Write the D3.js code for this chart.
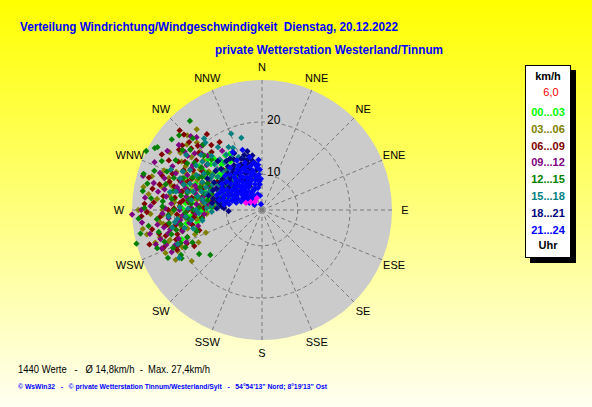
<!DOCTYPE html>
<html>
<head>
<meta charset="utf-8">
<script src="https://cdn.jsdelivr.net/npm/d3@7"></script>
<style>
body { margin: 0; }
text { font-family: "Liberation Sans", Arial, sans-serif; }
</style>
</head>
<body>
<svg width="592" height="407"></svg>
<script>
// wind direction (deg) and speed (km/h) per 3-hour block
var h00_03 = [[300,12],[305,13],[310,12.5],[295,11],[290,12],[285,13],[300,14],[310,14],[315,13],[320,12],[318,15],[305,15.5],[295,14.5],[288,15],[282,14],[278,12.5],[275,15],[270,16],[265,17],[260,18],[255,19],[272,13],[298,10.5],[308,10],[315,11],[322,14],[326,16],[312,16.5],[300,16],[292,17],[285,17.5],[280,16.5],[268,14],[262,15.5],[258,17],[275,18],[290,10],[303,11.5],[313,12],[296,13],[287,11],[280,11.5],[306,14],[299,15],[316,14],[324,13],[330,15.8],[320,15.5],[318,18],[305,18],[294,19],[283,19.5],[250,19.5],[265,19],[277,20],[254,16.5],
  [302,12.8],[307,11.8],[311,13.5],[297,12.2],[292,13.8],[286,14.2],[283,12],[278,14],[273,14.5],[269,15],[264,16.2],[259,16],[294,15.8],[301,13.4],[309,15],[314,12.2],[319,13.6],[323,11.5],[327,14.5],[304,16.8],[296,17.8],[289,16.2],[281,15.5],[276,16.8],[271,18.5],[266,17.8],[309,11],[317,16.8],[313,17.5],[287,18.5]];
var h03_06 = [[280,18],[275,20],[270,22],[265,19],[260,21],[255,23],[250,17],[245,20],[240,22],[234,19.8],[285,21],[290,19],[295,17],[300,20],[305,22],[310,18],[315,23],[321,22.7],[318,20],[312,15],[298,14],[288,16],[282,13],[276,15],[271,17],[266,14],[262,16],[256,18],[248,15],[243,17],[292,23],[287,24.6],[278,24.5],[268,24],[258,25],[300,16.5],[302,23.6],[274,12.5],[282,19],[294,21],[303,17.5],[262,22],[252,21.5],[283,22.5],[270,26],
  [285,18.5],[279,21],[273,19],[268,20.5],[263,22.5],[257,20],[251,22],[246,23],[289,21.8],[296,19.5],[301,21],[307,20],[311,22],[316,21],[293,16],[286,13.5],[279,16],[272,14],[264,18],[258,19],[253,24],[261,25.5],[276,23],[281,25.5],[298,18],[306,16],[313,19.5],[289,17.5],[267,22],[244,21]];
var h06_09 = [[314,23.5],[314,24.5],[324,21],[328,18.6],[313,22],[309,22.5],[254,20],[247,20.7],[269,24.6],[275,19],[280,17],[285,18],[290,20],[295,16],[300,18.5],[305,15],[310,17],[318,16],[322,19],[270,21],[265,18],[260,20],[255,22],[250,18.5],[245,21],[263,15],[272,14.5],[278,22],[284,23],[292,21.5],[298,23],[302,20.5],[288,14],[282,16],[276,17.5],[268,16.5],[258,17],[252,16],[306,12.5],[296,13],[290,15.5],[280,13],[274,23.5],[266,22.5],[260,24],[286,25],[316,14],[312,19.5],[300,21.5],[294,18],[285,20.5],[278,20],[262,19.5],[249,23],[242,18],
  [283,19],[277,18.5],[271,20],[267,19.5],[261,21.5],[256,19],[251,20.5],[287,21.5],[291,18.5],[297,20],[303,17],[307,19],[311,21],[319,18],[283,15],[277,14],[270,17.5],[264,16.5],[296,15],[302,13.5],[289,23],[281,24],[273,25],[267,25.5],[257,23],[253,25],[299,24.5],[306,22.5],[315,20.5],[246,19]];
var h09_12 = [[268,27],[249,23.3],[268,22],[250,22.4],[318,21.7],[306,20.7],[280,18],[275,16],[285,20],[290,17],[295,19],[300,15],[305,17.5],[310,20],[315,18],[320,16],[270,19],[265,21],[260,17.5],[255,19],[252,24],[245,22],[258,21],[262,23],[272,24],[278,21.5],[284,24],[288,22.5],[296,22],[302,24],[308,23],[312,15],[298,13],[292,14],[282,15],[276,13.5],[266,14.5],[256,16],[286,18.5],[280,23],[270,25.5],[274,20.5],[264,25.5],[294,25],[300,19],[288,16.5],[272,17],[258,24.5],[247,19],[326,17],
  [283,19.5],[277,17.5],[271,21.5],[266,18.5],[261,19.5],[256,21.5],[251,20],[289,19.5],[293,21],[298,17],[303,19],[307,21.5],[313,19],[317,20],[284,16.5],[279,15],[273,15.5],[267,16],[295,14.5],[302,16.5],[290,23.5],[282,22],[276,25],[260,22],[254,23],[248,21],[309,17],[316,22.5],[286,26],[263,19]];
var h12_15 = [[321,24.5],[301,25.7],[297,27],[255,27],[241,20.8],[296,24],[229,16.5],[239,21],[280,19],[275,22],[285,17],[290,21],[295,18],[300,22],[305,19],[310,21],[315,17],[270,20],[265,23],[260,19],[255,21],[250,24],[245,18],[290,24.5],[283,25],[276,24],[266,26],[262,15],[272,15.5],[280,14],[288,13.5],[296,15],[304,16],[312,24],[318,20],[258,23],[248,20],[243,23],[278,17.5],[285,22],[292,19.5],[300,26],[268,18],[274,13],[290,16],[235,18],[252,16.5],[262,21],[282,20.5],[296,20],
  [283,18],[277,20.5],[272,22],[267,21],[263,17.5],[257,20],[252,22.5],[288,19],[292,22.5],[297,17],[302,20],[307,22],[313,18.5],[281,16],[275,17],[270,16.5],[286,15],[293,14],[299,16.5],[287,26],[279,25.5],[271,25],[262,24.5],[247,21.5],[244,19.5],[308,24.5],[316,22],[305,17.5],[259,26],[250,18.5]];
var h15_18 = [[344,17.7],[321,20.7],[320,20],[259,20.6],[240,21.3],[248,20.5],[280,15],[285,17],[290,14],[295,16],[300,13],[305,15],[310,17],[315,14],[320,16],[325,18],[330,15],[335,16.5],[340,14],[275,13],[270,16],[265,18],[260,15],[255,17],[288,19],[296,20],[304,18.5],[312,19],[300,11],[292,12],[284,12.5],[276,11.5],[268,13],[318,12],[326,13],[282,20],[272,19],[262,20],[294,22],[306,21],[286,14.5],[298,17.5],[308,12.5],[314,16],[278,17],[266,21],[290,18],[302,15],[338,19],[320,13.5],
  [282,16],[287,15.5],[292,15],[297,14],[302,16.5],[307,14],[312,15],[317,17.5],[322,15],[327,16],[332,17],[277,14.5],[272,14],[267,15.5],[262,17],[257,18.5],[284,18],[291,20],[299,19],[309,18],[294,12.5],[286,11.5],[279,12],[304,12],[313,13],[323,12],[271,17.5],[264,19.5],[281,21],[336,14.5]];
var h18_21 = [[335,13],[338,14],[342,14.5],[345,13.5],[348,12.5],[340,12],[344,11.5],[336,11],[330,12],[325,13],[320,11],[315,12],[310,10],[305,11],[300,12],[295,10.5],[290,11],[285,12],[281,10.5],[268,9.5],[281,12],[275,11],[330,9.5],[325,10],[318,9],[312,8.5],[305,9],[298,8.5],[322,14],[315,14.5],[308,13],[300,14],[292,13.5],[328,15],[334,15.5],[346,15],[350,14],[352,11],[347,10],[340,9.5],[333,8],[326,8.5],[310,15],[300,15.5],[318,16],[285,14],[278,13],[272,12],[295,13],[288,9],
  [337,12.5],[341,13.5],[343,12.8],[346,14],[349,13],[339,11],[333,12.5],[327,11.5],[322,12.5],[317,13],[312,11.5],[307,12],[302,10.5],[297,11.5],[293,12],[287,11],[283,13],[278,11.5],[273,10.5],[328,13.5],[331,14.5],[324,15],[313,10],[303,13],[336,9],[319,10.5],[309,9.5],[298,10],[344,10.5],[351,12.5]];
var h21_24 = [[342,15.5],[333,15.8],[355,7.8],[353,11.7],[350,2.5],[300,5],[305,6],[310,6.5],[315,7],[320,7.5],[325,7],[330,8],[335,8.5],[340,9],[345,8],[350,7],[355,10],[358,9],[345,10.5],[340,11],[335,10],[330,10.5],[325,9.5],[320,9],[315,8.5],[310,8],[305,8.5],[300,9],[295,8],[290,9],[285,10],[283,11.7],[290,11],[295,10.5],[300,11],[305,10],[310,11],[315,10.5],[320,11.5],[325,12],[330,11.5],[335,12],[340,13],[345,12],[350,12.5],[355,12],[348,9],[338,7],[328,6],[318,5.5],[308,5],[298,6.5],[292,7],[286,8],[280,9.5],[303,12.5],[313,13],[323,13.5],[333,14],[352,5],[345,5.5],[335,5],[325,4.5],[315,4],[305,3.5],[356,13],[347,13.8],[318,12.5],[298,12],[288,12.5],
  [302,7],[307,7.5],[312,7.2],[317,7.8],[322,8.2],[327,8.5],[332,9.2],[337,9.5],[342,10],[347,11],[352,9.5],[357,11],[337,11.5],[332,13],[327,10.8],[322,10.2],[317,9.5],[312,9.8],[307,9.2],[302,10],[297,9.5],[292,10],[287,9],[282,10.5],[297,11.5],[292,12],[309,12],[319,11],[329,12.5],[339,12.2],[349,10],[354,8.5],[343,7],[333,6.5],[323,6],[313,6],[303,6.2],[294,8.5],[284,11],[278,10.5]];
var latest = [[294,5.8],[319,4],[337,4.6],[305,4.8]];

var blocks = ["00...03","03...06","06...09","09...12","12...15","15...18","18...21","21...24"];
var blockData = [h00_03, h03_06, h06_09, h09_12, h12_15, h15_18, h18_21, h21_24];
var blockColors = ["#00ff00","#808000","#800000","#800080","#008000","#008080","#000080","#0000ff"];
var directions = ["N","NNE","NE","ENE","E","ESE","SE","SSE","S","SSW","SW","WSW","W","WNW","NW","NNW"];
var rings = [10, 20];

var svg = d3.select('svg');

var grad = svg.append('defs').append('linearGradient')
  .attr('id', 'bg').attr('x1', 0).attr('y1', 0).attr('x2', 0).attr('y2', 1);
grad.append('stop').attr('offset', '0%').attr('stop-color', '#ffff00');
grad.append('stop').attr('offset', '100%').attr('stop-color', '#fffff2');

svg.append('rect').attr('width', 592).attr('height', 407).attr('fill', 'url(#bg)');

var cx = 262, cy = 210, R = 130;
var rScale = d3.scalePow().exponent(1.3).domain([0, 27]).range([0, R]);
var angle = d3.scaleLinear().domain([0, 360]).range([0, 2 * Math.PI]);

function px(dir, r) { return cx + r * Math.sin(angle(dir)); }
function py(dir, r) { return cy - r * Math.cos(angle(dir)); }

var plot = svg.append('g');

plot.append('circle').attr('cx', cx).attr('cy', cy).attr('r', R).attr('fill', '#cbcbcb');

// radial lines
plot.selectAll('.spoke')
  .data(directions)
  .enter()
  .append('line')
  .attr('x1', cx).attr('y1', cy)
  .attr('x2', function(d, i){ return px(i * 22.5, R); })
  .attr('y2', function(d, i){ return py(i * 22.5, R); })
  .attr('stroke', '#7a7a7a')
  .attr('stroke-dasharray', '4,3');

plot.selectAll('.ring')
  .data(rings)
  .enter()
  .append('circle')
  .attr('cx', cx).attr('cy', cy)
  .attr('r', function(d){ return rScale(d); })
  .attr('fill', 'none')
  .attr('stroke', '#7a7a7a')
  .attr('stroke-dasharray', '4,3');

plot.selectAll('.dirLabel')
  .data(directions)
  .enter()
  .append('text')
  .attr('x', function(d, i){ return px(i * 22.5, 143); })
  .attr('y', function(d, i){ return py(i * 22.5, 143) + 4; })
  .attr('text-anchor', 'middle')
  .attr('font-size', 11)
  .text(function(d){ return d; });

var diamond = d3.symbol().type(d3.symbolSquare).size(20);

function place(d){
  var r = rScale(d[1]);
  return 'translate(' + px(d[0], r) + ',' + py(d[0], r) + ') rotate(45)';
}

blockData.forEach(function(pts, k){
  plot.append('g').selectAll('path')
    .data(pts)
    .enter()
    .append('path')
    .attr('d', diamond)
    .attr('transform', place)
    .attr('fill', blockColors[k]);
});

plot.append('g').selectAll('path')
  .data(latest)
  .enter()
  .append('path')
  .attr('d', diamond)
  .attr('transform', place)
  .attr('fill', '#ff00ff');

plot.selectAll('.ringLabel')
  .data(rings)
  .enter()
  .append('text')
  .attr('x', cx + 5)
  .attr('y', function(d){ return cy - rScale(d) + 2; })
  .attr('font-size', 12)
  .text(function(d){ return d; });

// titles
svg.append('text')
  .attr('x', 20).attr('y', 31)
  .attr('font-size', 12.5).attr('font-weight', 'bold')
  .attr('fill', '#0000ff')
  .attr('textLength', 378).attr('lengthAdjust', 'spacingAndGlyphs')
  .text('Verteilung Windrichtung/Windgeschwindigkeit\u00a0 Dienstag, 20.12.2022');

svg.append('text')
  .attr('x', 215).attr('y', 54)
  .attr('font-size', 12.5).attr('font-weight', 'bold')
  .attr('fill', '#0000ff')
  .attr('textLength', 228).attr('lengthAdjust', 'spacingAndGlyphs')
  .text('private Wetterstation Westerland/Tinnum');

// legend
var leg = svg.append('g');
leg.append('rect').attr('x', 530).attr('y', 70).attr('width', 46).attr('height', 193).attr('fill', '#000');
leg.append('rect').attr('x', 525.5).attr('y', 65.5).attr('width', 45).attr('height', 192)
  .attr('fill', '#fff').attr('stroke', '#000');

leg.append('text').attr('x', 548).attr('y', 80).attr('text-anchor', 'middle')
  .attr('font-size', 11).attr('font-weight', 'bold').text('km/h');
leg.append('text').attr('x', 551).attr('y', 96).attr('text-anchor', 'middle')
  .attr('font-size', 11).attr('fill', '#ff0000').text('6,0');

leg.selectAll('.blk')
  .data(blocks)
  .enter()
  .append('text')
  .attr('x', 548)
  .attr('y', function(d, i){ return 116 + i * 16.8; })
  .attr('text-anchor', 'middle')
  .attr('font-size', 11).attr('font-weight', 'bold')
  .attr('fill', function(d, i){ return blockColors[i]; })
  .text(function(d){ return d; });

leg.append('text').attr('x', 548).attr('y', 249).attr('text-anchor', 'middle')
  .attr('font-size', 11).attr('font-weight', 'bold').text('Uhr');

// footer
svg.append('text')
  .attr('x', 18).attr('y', 373)
  .attr('font-size', 11)
  .attr('xml:space', 'preserve')
  .attr('textLength', 192).attr('lengthAdjust', 'spacingAndGlyphs')
  .text('1440 Werte   -   \u00d8 14,8km/h  -  Max. 27,4km/h');

svg.append('text')
  .attr('x', 18).attr('y', 389)
  .attr('font-size', 7.5).attr('font-weight', 'bold')
  .attr('fill', '#0000ff')
  .attr('xml:space', 'preserve')
  .attr('textLength', 309).attr('lengthAdjust', 'spacingAndGlyphs')
  .text('\u00a9 WsWin32   -   \u00a9 private Wetterstation Tinnum/Westerland/Sylt   -   54\u00b054\'13" Nord; 8\u00b019\'13" Ost');
</script>
</body>
</html>
